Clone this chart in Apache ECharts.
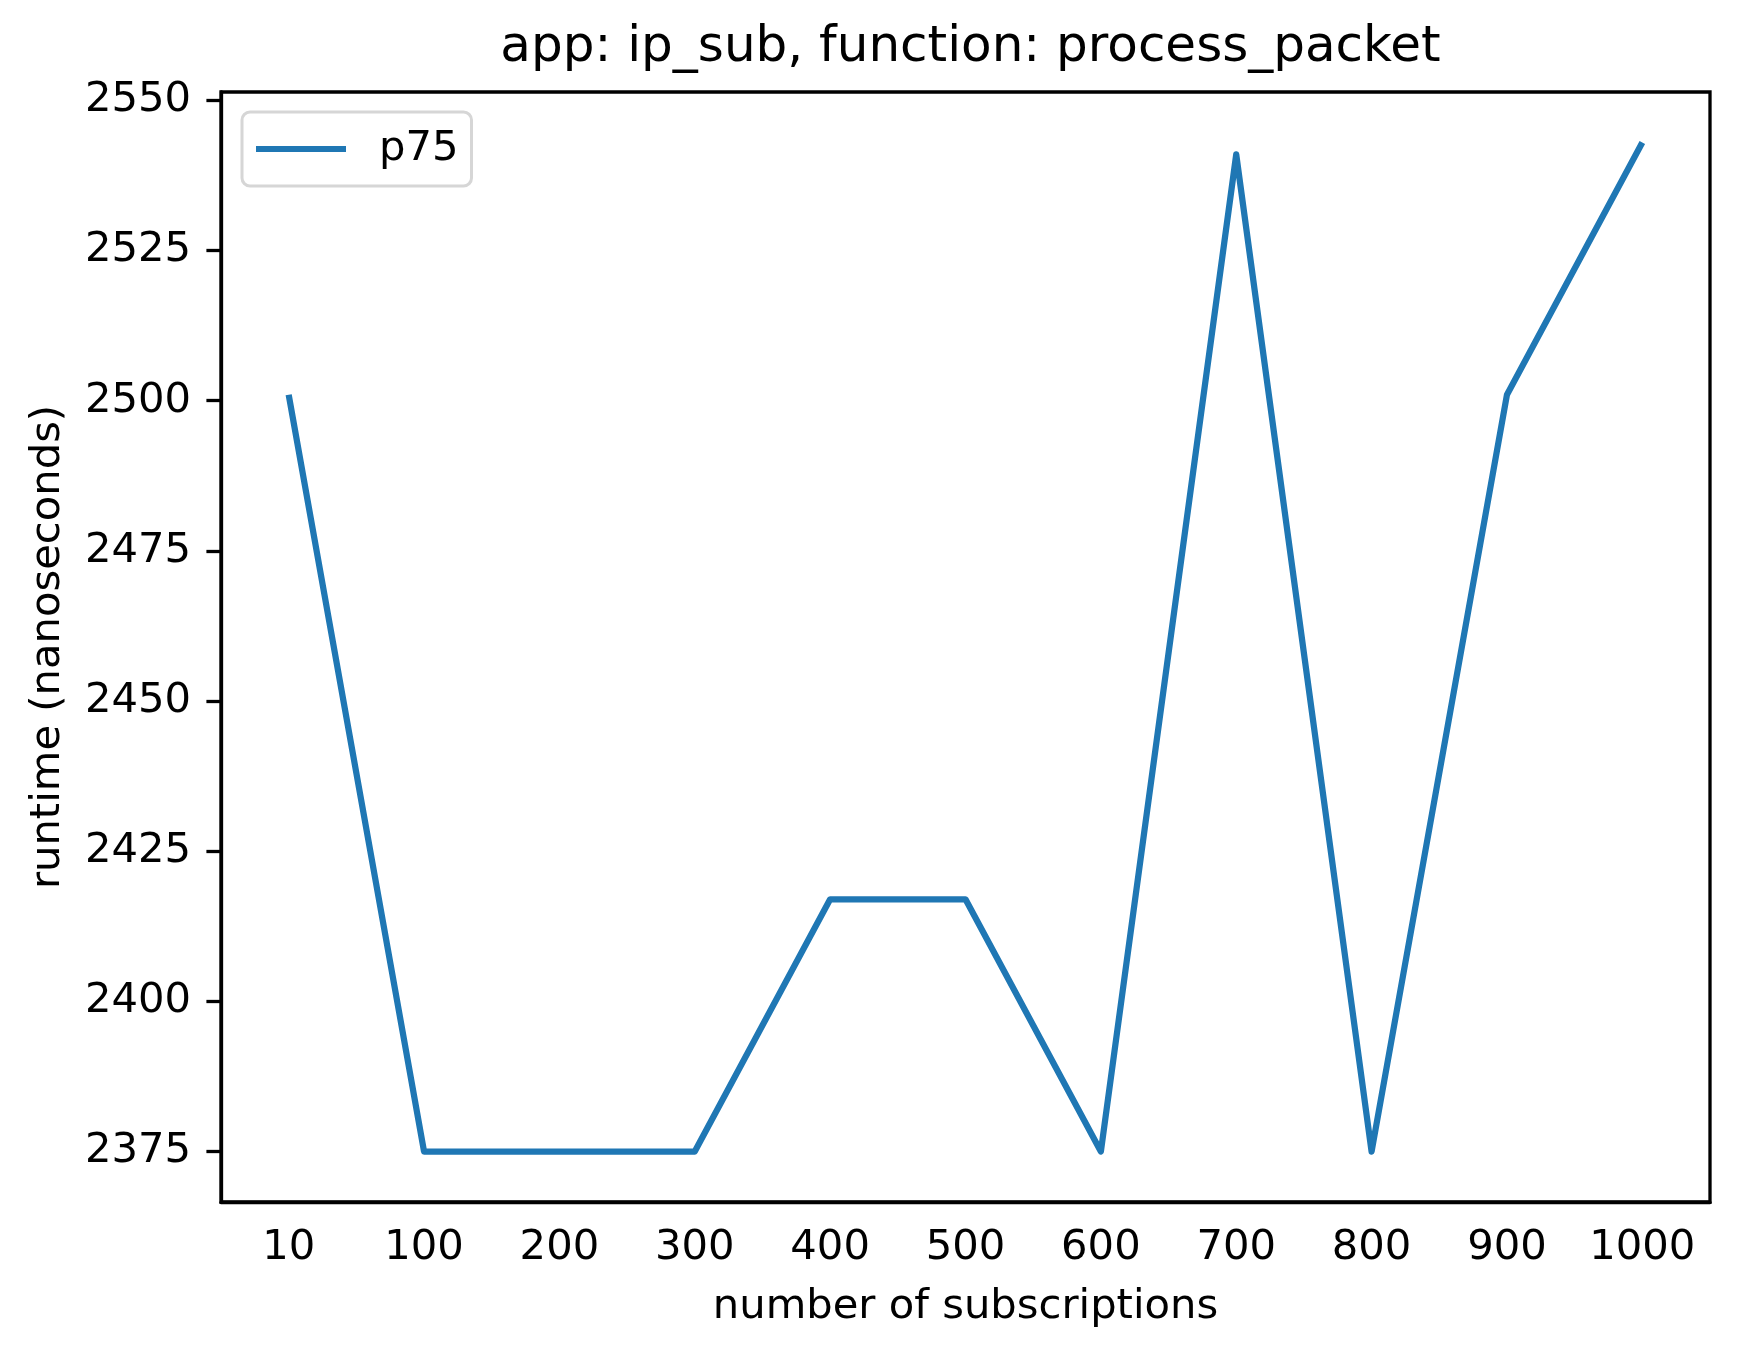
<!DOCTYPE html>
<html>
<head>
<meta charset="utf-8">
<title>ip_sub process_packet</title>
<script src="https://cdn.jsdelivr.net/npm/echarts@6/dist/echarts.min.js"></script>
<style>
	html, body { margin: 0; padding: 0; background: #fff; }
	#MyChart { width: 1739px; height: 1357px; }
</style>
</head>
<body>
<div id="MyChart"></div>
<script>
// number of subscriptions
var subscriptions = ['10', '100', '200', '300', '400', '500', '600', '700', '800', '900', '1000'];
// p75 runtime (ns)
var p75 = [2501, 2375, 2375, 2375, 2417, 2417, 2375, 2541, 2375, 2501, 2543];
var yTicks = [2375, 2400, 2425, 2450, 2475, 2500, 2525, 2550];

var font = 'DejaVu Sans';
var myChart1 = echarts.init(document.getElementById('MyChart'));
myChart1.setOption({
	animation: false,
	backgroundColor: '#fff',
	title: {
		text: 'app: ip_sub, function: process_packet',
		left: 965.5,
		top: 18,
		textAlign: 'center',
		textStyle: {
			fontFamily: font,
			fontSize: 50,
			fontWeight: 'normal',
			color: '#000'
		}
	},
	legend: {
		data: ['p75'],
		left: 242,
		top: 112,
		orient: 'vertical',
		icon: 'rect',
		itemWidth: 90,
		itemHeight: 6,
		padding: [16, 13, 16, 14],
		backgroundColor: '#fff',
		borderColor: '#d6d6d6',
		borderWidth: 3,
		borderRadius: 8,
		textStyle: {
			fontFamily: font,
			fontSize: 41.7,
			color: '#000',
			padding: [0, 0, 0, 28]
		}
	},
	grid: {
		left: 221,
		top: 92,
		right: 29,
		bottom: 155,
		show: true,
		borderColor: '#000',
		borderWidth: 3.3,
		backgroundColor: 'transparent'
	},
	xAxis: {
		type: 'category',
		data: subscriptions,
		boundaryGap: true,
		name: 'number of subscriptions',
		nameLocation: 'middle',
		nameGap: 84,
		nameTextStyle: { fontFamily: font, fontSize: 41.7, color: '#000' },
		axisLine: { lineStyle: { color: '#000', width: 3.3 } },
		axisTick: { alignWithLabel: true, interval: 0, length: 14.6, lineStyle: { color: '#000', width: 3.3 } },
		axisLabel: { interval: 0, margin: 25, fontFamily: font, fontSize: 41.7, color: '#000' },
		splitLine: { show: false }
	},
	yAxis: {
		type: 'value',
		min: 2366.6,
		max: 2551.4,
		name: 'runtime (nanoseconds)',
		nameLocation: 'middle',
		nameGap: 152,
		nameTextStyle: { fontFamily: font, fontSize: 41.7, color: '#000' },
		axisLine: { show: true, lineStyle: { color: '#000', width: 3.3 } },
		axisTick: { show: true, length: 14.6, customValues: yTicks, lineStyle: { color: '#000', width: 3.3 } },
		axisLabel: {
			margin: 30, fontFamily: font, fontSize: 41.7, color: '#000', customValues: yTicks,
			formatter: function(v) { return String(v); }
		},
		splitLine: { show: false }
	},
	series: [{
		name: 'p75',
		type: 'line',
		data: p75,
		symbol: 'none',
		color: '#1f77b4',
		lineStyle: { width: 6.25, color: '#1f77b4', cap: 'butt', join: 'round' }
	}]
});
</script>
</body>
</html>
